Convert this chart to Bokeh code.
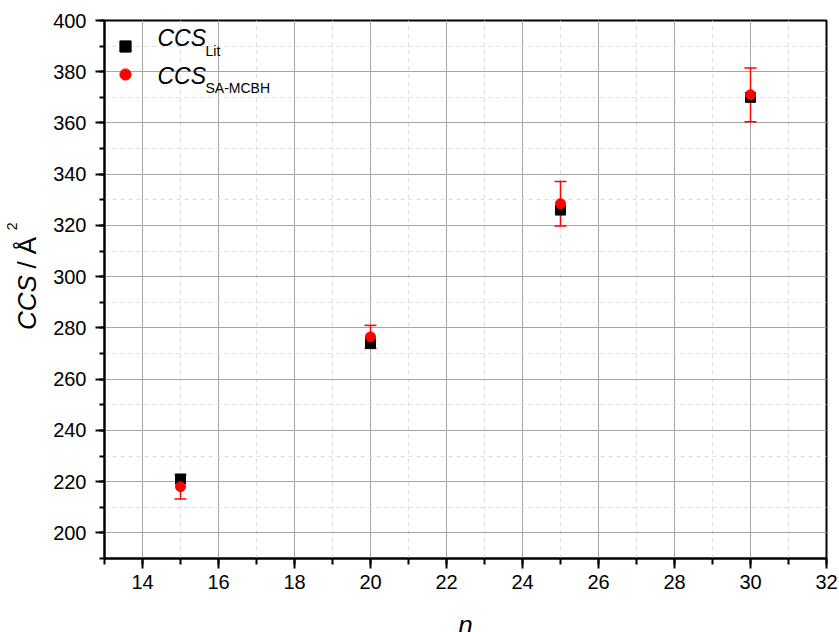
import math
from bokeh.plotting import figure
from bokeh.models import (ColumnDataSource, Whisker, TeeHead, SingleIntervalTicker,
                          Legend, LegendItem, Label, Range1d)
from bokeh.layouts import row, column
from bokeh.embed import file_html
from bokeh.resources import INLINE

# ---- data ----
n_values = [15, 20, 25, 30]
ccs_lit = [221, 274, 326, 370]
ccs_sa = [218, 276.5, 328.5, 371]
ccs_sa_err = [4.8, 4.5, 8.7, 10.5]

FONT = "Liberation Sans"
W, H = 839, 632
YW = 48          # width of the strip holding the y title
MAIN_H = 605     # height of the main plot

p = figure(width=W - YW, height=MAIN_H, output_backend="svg", toolbar_location=None,
           x_range=Range1d(13, 32), y_range=Range1d(190, 400),
           min_border_left=104 - YW, min_border_right=13, min_border_top=20,
           min_border_bottom=MAIN_H - 558)
p.background_fill_color = "white"
p.border_fill_color = "white"
p.outline_line_color = "black"
p.outline_line_width = 2

p.xaxis.ticker = SingleIntervalTicker(interval=2, num_minor_ticks=2)
p.yaxis.ticker = SingleIntervalTicker(interval=20, num_minor_ticks=2)

for ax in (p.xaxis[0], p.yaxis[0]):
    ax.axis_line_color = "black"
    ax.axis_line_width = 2
    ax.major_tick_line_color = "black"
    ax.major_tick_line_width = 2
    ax.minor_tick_line_color = "black"
    ax.minor_tick_line_width = 2
    ax.major_tick_in = 0
    ax.minor_tick_in = 0
    ax.major_label_text_font = FONT
    ax.major_label_text_font_size = "20px"
    ax.major_label_text_color = "black"

p.xaxis.major_tick_out = 10
p.xaxis.minor_tick_out = 6
p.xaxis.major_label_standoff = 6
p.yaxis.major_tick_out = 9
p.yaxis.minor_tick_out = 5
p.yaxis.major_label_standoff = 9

for g in (p.xgrid[0], p.ygrid[0]):
    g.grid_line_color = "#a6a6a6"
    g.grid_line_width = 1
    g.minor_grid_line_color = "#dcdcdc"
    g.minor_grid_line_dash = "4 4"
    g.minor_grid_line_width = 1

src_lit = ColumnDataSource(dict(x=n_values, y=ccs_lit))
src_sa = ColumnDataSource(dict(
    x=n_values, y=ccs_sa,
    lo=[v - e for v, e in zip(ccs_sa, ccs_sa_err)],
    hi=[v + e for v, e in zip(ccs_sa, ccs_sa_err)]))

sq = p.scatter("x", "y", source=src_lit, marker="square", size=10,
               fill_color="black", line_color="black")

wh = Whisker(source=src_sa, base="x", upper="hi", lower="lo",
             line_color="red", line_width=1.5,
             upper_head=TeeHead(size=12, line_color="red", line_width=1.5),
             lower_head=TeeHead(size=12, line_color="red", line_width=1.5))
p.add_layout(wh)

ci = p.scatter("x", "y", source=src_sa, marker="circle", size=10,
               fill_color="red", line_color="red")

legend = Legend(items=[LegendItem(label=" ", renderers=[sq]),
                       LegendItem(label=" ", renderers=[ci])],
                location=(7, 470), glyph_width=28, glyph_height=28,
                padding=0, spacing=0, margin=0, label_height=10,
                label_text_font_size="8px",
                border_line_color=None, background_fill_alpha=0)
p.add_layout(legend)


def lab(fig, x, y, text, size, italic=False, angle=0, align="left", units="screen"):
    fig.add_layout(Label(x=x, y=y, x_units=units, y_units=units, text=text,
                         text_font=FONT, text_font_size=size,
                         text_font_style="italic" if italic else "normal",
                         text_color="black", angle=angle, text_align=align,
                         text_baseline="middle"))


# legend texts (inside the frame)
lab(p, 53, 521, "CCS", "23px", italic=True)
lab(p, 101, 508, "Lit", "14px")
lab(p, 53, 483, "CCS", "23px", italic=True)
lab(p, 101, 471, "SA-MCBH", "14px")


def blank(w, h):
    f = figure(width=w, height=h, output_backend="svg", toolbar_location=None,
               x_axis_type=None, y_axis_type=None,
               x_range=Range1d(0, w), y_range=Range1d(0, h),
               min_border=0, min_border_left=0, min_border_right=0,
               min_border_top=0, min_border_bottom=0)
    f.outline_line_color = None
    f.grid.visible = False
    f.background_fill_color = "white"
    f.border_fill_color = "white"
    return f


# y title strip (data units == pixels, y measured from the strip bottom)
yfig = blank(YW, MAIN_H)
lab(yfig, 26, MAIN_H - 348, "CCS", "26px", italic=True, angle=math.pi / 2, units="data")
lab(yfig, 26, MAIN_H - 279, "/ Å", "26px", angle=math.pi / 2, units="data")
lab(yfig, 11, MAIN_H - 236, "2", "14px", angle=math.pi / 2, units="data")

# x title strip
XH = H - MAIN_H
xfig = blank(W, XH)
lab(xfig, 465, 8, "n", "26px", italic=True, align="center", units="data")

layout = column(row(yfig, p), xfig)
open("out.html", "w").write(file_html(layout, INLINE))
